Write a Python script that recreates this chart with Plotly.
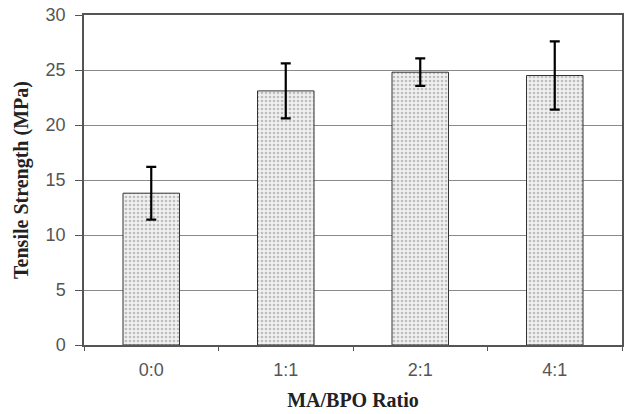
import plotly.graph_objects as go

categories = ["0:0", "1:1", "2:1", "4:1"]
strength = [13.8, 23.1, 24.8, 24.5]
err = [2.4, 2.5, 1.25, 3.1]
y_ticks = [0, 5, 10, 15, 20, 25, 30]

fig = go.Figure()
fig.add_trace(go.Bar(
    x=categories, y=strength,
    width=0.42,
    marker=dict(
        color="#e6e6e6",
        line=dict(color="#333333", width=1),
        pattern=dict(shape=".", fgcolor="#8a8a8a", bgcolor="#f0f0f0", size=4, solidity=0.35),
    ),
    error_y=dict(type="data", array=err, visible=True, color="black", thickness=2.2, width=5),
    showlegend=False,
))

fig.update_layout(
    width=624, height=414,
    margin=dict(l=84, r=2, t=15, b=69),
    plot_bgcolor="white", paper_bgcolor="white",
)
fig.update_xaxes(
    automargin=False,
    showline=True, linecolor="#555555", linewidth=1.5, mirror=True,
    ticks="outside", ticklen=4, tickcolor="#555555", tickson="boundaries",
    tickfont=dict(family="Liberation Sans, Arial", size=18, color="#555555"),
    ticklabelstandoff=8,
    title=dict(text="<b>MA/BPO Ratio</b>", font=dict(family="Liberation Serif, Times New Roman", size=20, color="#222222"), standoff=14),
)
fig.update_yaxes(
    automargin=False,
    range=[0, 30], tickvals=y_ticks,
    showline=True, linecolor="#555555", linewidth=1.5, mirror=True,
    showgrid=True, gridcolor="#8a8a8a", gridwidth=1,
    ticks="outside", ticklen=7, tickcolor="#555555",
    tickfont=dict(family="Liberation Sans, Arial", size=18, color="#555555"),
    ticklabelstandoff=6, ticklabeloverflow="allow",
    title=dict(text="<b>Tensile Strength (MPa)</b>", font=dict(family="Liberation Serif, Times New Roman", size=20, color="#222222"), standoff=12),
    zeroline=False,
)

fig.write_html("out.html", config={"displayModeBar": False},
               post_script="document.body.style.margin='0';")
